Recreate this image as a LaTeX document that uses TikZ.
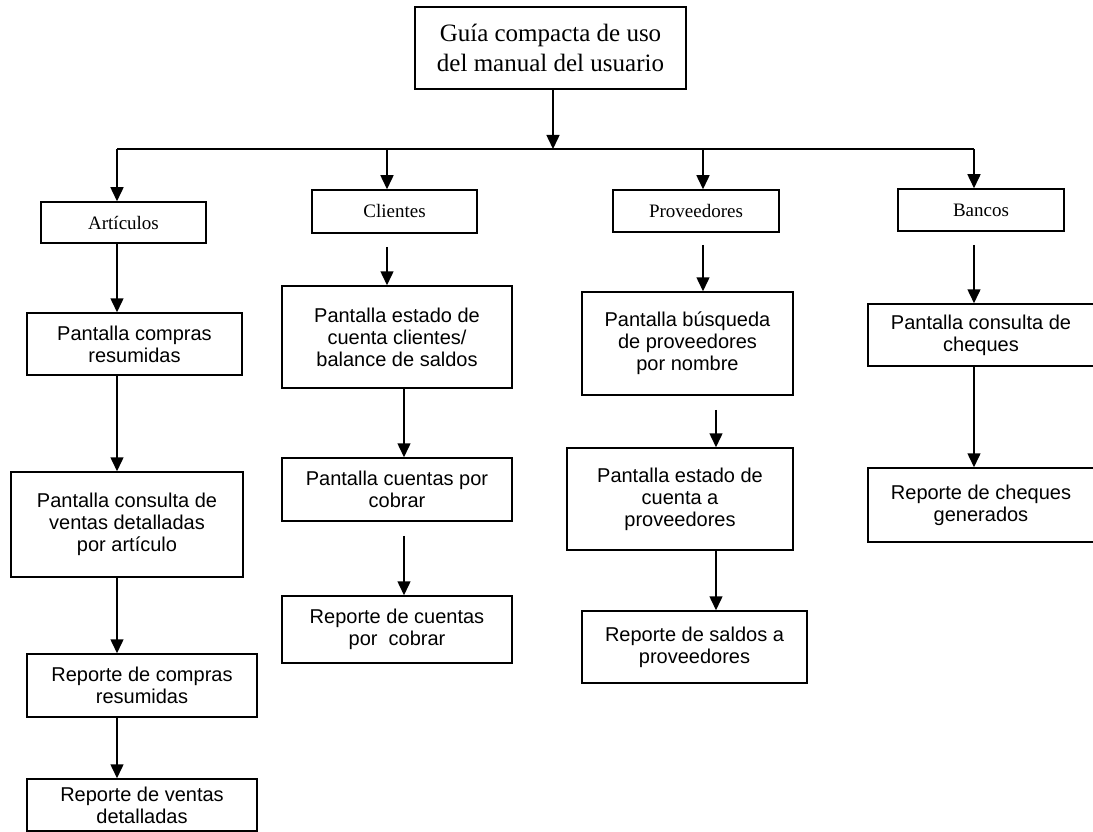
\documentclass[tikz,border=0pt]{standalone}
\usepackage{fontspec}
\setmainfont{Liberation Serif}
\newfontfamily\arialfam{Liberation Sans}
\usetikzlibrary{arrows.meta}
\begin{document}
\begin{tikzpicture}[x=1pt,y=-1pt,
  box/.style={draw, line width=1.5pt, inner sep=0pt, align=center},
  titlebox/.style={box, font=\fontsize{25}{30}\selectfont},
  areabox/.style={box, font=\fontsize{19}{22}\selectfont},
  screenbox/.style={box, font=\arialfam\fontsize{20}{22}\selectfont},
  link/.style={line width=1.5pt},
  arr/.style={link, -{Triangle[width=13pt,length=14pt]}}]
\useasboundingbox (0,0) rectangle (1093,832);

% root
\node[titlebox, minimum width=271, minimum height=82] (guide) at (550.5,48)
  {Guía compacta de uso\\del manual del usuario};

% areas
\node[areabox, minimum width=165, minimum height=41] (art) at (123.5,222.5) {Artículos};
\node[areabox, minimum width=165, minimum height=43] (cli) at (394.5,211.5) {Clientes};
\node[areabox, minimum width=166, minimum height=42] (prov) at (696,211) {Proveedores};
\node[areabox, minimum width=166, minimum height=42] (ban) at (981,210) {Bancos};

% Artículos column
\node[screenbox, minimum width=215, minimum height=62] (a1) at (134.5,344)
  {Pantalla compras\\resumidas};
\node[screenbox, minimum width=232, minimum height=105] (a2) at (127,524.5)
  {Pantalla consulta de\\ventas detalladas\\por artículo};
\node[screenbox, minimum width=230, minimum height=63] (a3) at (142,685.5)
  {Reporte de compras\\resumidas};
\node[screenbox, minimum width=230, minimum height=52] (a4) at (142,805)
  {Reporte de ventas\\detalladas};

% Clientes column
\node[screenbox, minimum width=230, minimum height=102] (c1) at (397,337)
  {Pantalla estado de\\cuenta clientes/\\balance de saldos};
\node[screenbox, minimum width=230, minimum height=63] (c2) at (397,489.5)
  {Pantalla cuentas por\\cobrar};
\node[screenbox, minimum width=230, minimum height=67] (c3) at (397,629.5)
  {Reporte de cuentas\\por\ \ cobrar};

% Proveedores column
\node[screenbox, minimum width=211, minimum height=103] (p1) at (687.5,343.5)
  {Pantalla búsqueda\\de proveedores\\por nombre};
\node[screenbox, minimum width=226, minimum height=102] (p2) at (680,499)
  {Pantalla estado de\\cuenta a\ \ \\proveedores};
\node[screenbox, minimum width=225, minimum height=72] (p3) at (694.5,647)
  {Reporte de saldos a\\proveedores};

% Bancos column
\node[screenbox, minimum width=226, minimum height=62] (b1) at (981,335)
  {Pantalla consulta de\\cheques};
\node[screenbox, minimum width=226, minimum height=74] (b2) at (981,505)
  {Reporte de cheques\\generados};

% connector x positions and the distribution bar
\coordinate (bus) at (0,149);
\coordinate (xg) at (553,0);
\coordinate (xa) at (117,0);
\coordinate (xc) at (387,0);
\coordinate (xc2) at (404,0);
\coordinate (xp) at (703,0);
\coordinate (xp2) at (716,0);
\coordinate (xb) at (974,0);

\draw[arr] (guide.south -| xg) -- (bus -| xg);
\draw[link] (bus -| xa) -- (bus -| xb);
\draw[arr] (bus -| xa) -- (art.north -| xa);
\draw[arr] (bus -| xc) -- (cli.north -| xc);
\draw[arr] (bus -| xp) -- (prov.north -| xp);
\draw[arr] (bus -| xb) -- (ban.north -| xb);

% Artículos chain
\draw[arr] (art.south -| xa) -- (a1.north -| xa);
\draw[arr] (a1.south -| xa) -- (a2.north -| xa);
\draw[arr] (a2.south -| xa) -- (a3.north -| xa);
\draw[arr] (a3.south -| xa) -- (a4.north -| xa);

% Clientes chain
\draw[arr, shorten <=13pt] (cli.south -| xc) -- (c1.north -| xc);
\draw[arr] (c1.south -| xc2) -- (c2.north -| xc2);
\draw[arr, shorten <=14pt] (c2.south -| xc2) -- (c3.north -| xc2);

% Proveedores chain
\draw[arr, shorten <=12pt] (prov.south -| xp) -- (p1.north -| xp);
\draw[arr, shorten <=14pt] (p1.south -| xp2) -- (p2.north -| xp2);
\draw[arr] (p2.south -| xp2) -- (p3.north -| xp2);

% Bancos chain
\draw[arr, shorten <=13pt] (ban.south -| xb) -- (b1.north -| xb);
\draw[arr] (b1.south -| xb) -- (b2.north -| xb);
\end{tikzpicture}
\end{document}
